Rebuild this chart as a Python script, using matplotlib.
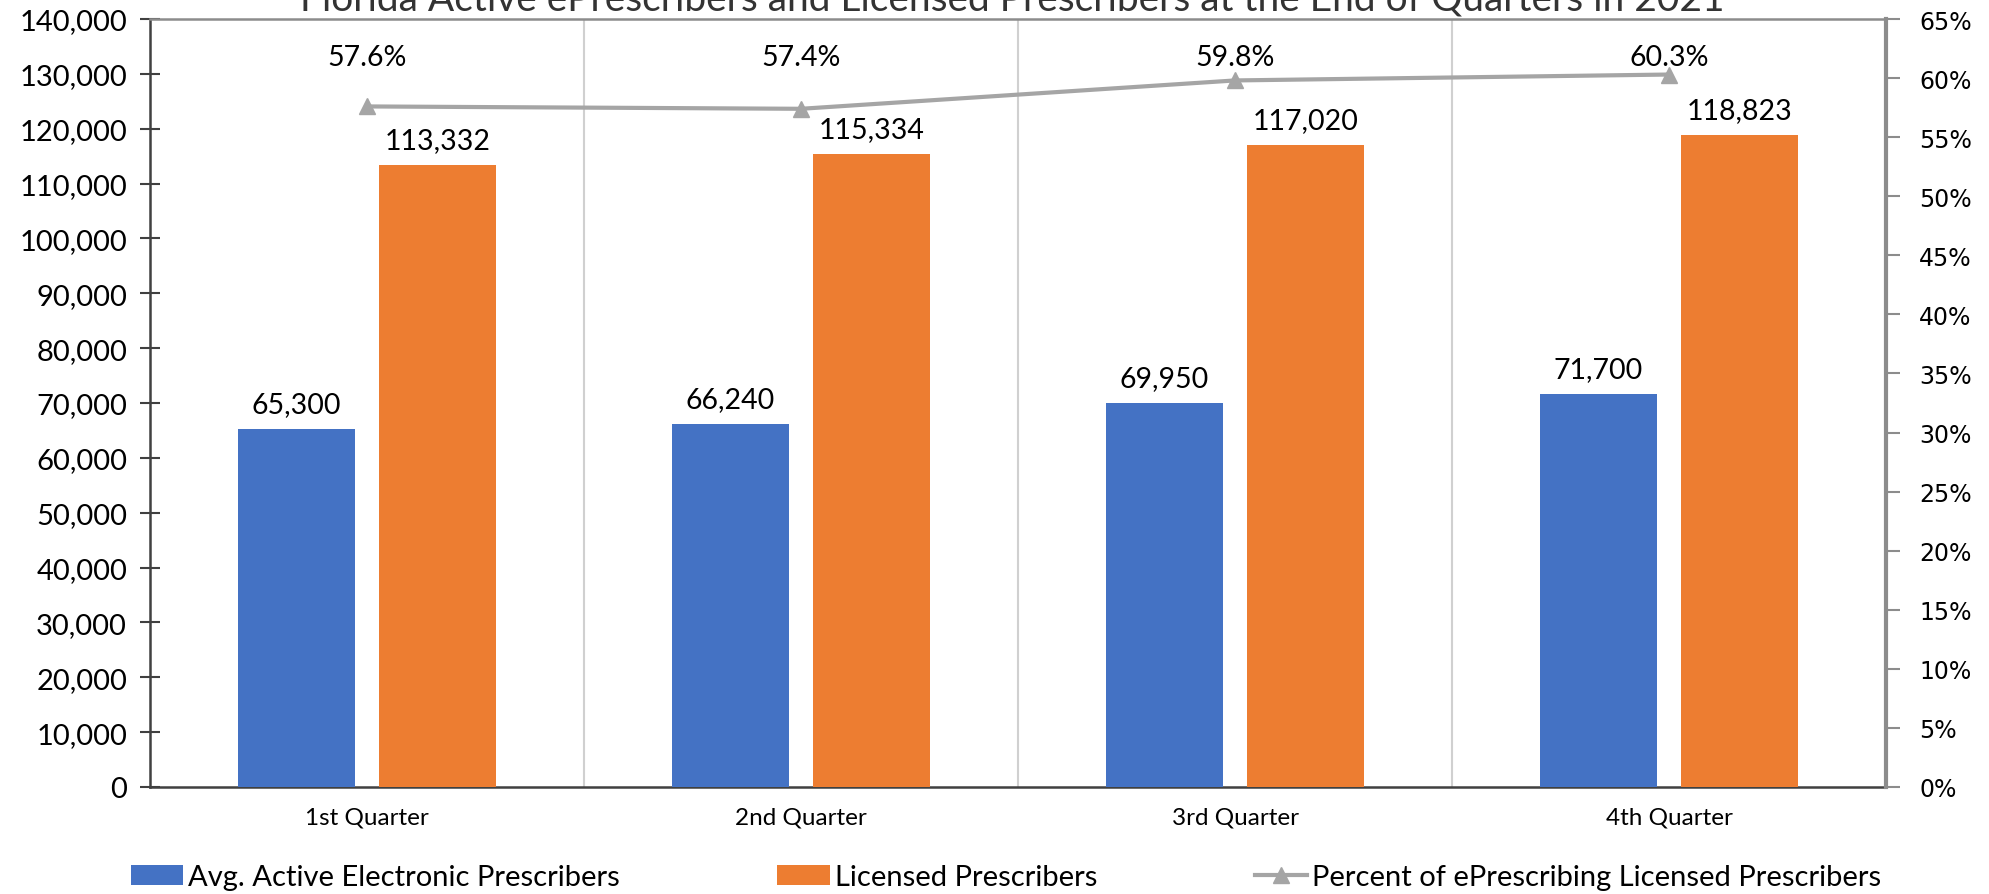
import matplotlib
matplotlib.use('Agg')
import matplotlib.pyplot as plt
import numpy as np
from matplotlib.ticker import FuncFormatter, PercentFormatter

# chart data
quarters = ['1st Quarter', '2nd Quarter', '3rd Quarter', '4th Quarter']
active_prescribers = [65300, 66240, 69950, 71700]
licensed_prescribers = [113332, 115334, 117020, 118823]
percent_eprescribing = [0.576, 0.574, 0.598, 0.603]

title = 'Florida Active ePrescribers and Licensed Prescribers at the End of Quarters in 2021'

plt.rcParams['font.family'] = ['Lato', 'DejaVu Sans']

blue = '#4472C4'
orange = '#ED7D31'
gray_line = '#A5A5A5'

fig = plt.figure(figsize=(19.89, 8.95), dpi=100)
ax = fig.add_axes([150/1989, 1-788/895, (1886-150)/1989, (788-20)/895])

x = np.arange(len(quarters))
w = 0.27
b1 = ax.bar(x - 0.163, active_prescribers, w, color=blue, label='Avg. Active Electronic Prescribers', zorder=3)
b2 = ax.bar(x + 0.163, licensed_prescribers, w, color=orange, label='Licensed Prescribers', zorder=3)

# value labels above the bars
for bars in (b1, b2):
    for rect in bars:
        h = rect.get_height()
        ax.annotate('{:,.0f}'.format(h), (rect.get_x() + rect.get_width()/2, h),
                    xytext=(0, 25), textcoords='offset pixels',
                    ha='center', va='center', fontsize=20.5, color='black')

ax.set_xlim(-0.5, 3.5)
ax.set_ylim(0, 140000)
ax.set_yticks(np.arange(0, 140001, 10000))
ax.yaxis.set_major_formatter(FuncFormatter(lambda v, p: '{:,.0f}'.format(v)))
ax.set_xticks(x)
ax.set_xticklabels(quarters)
ax.set_xticks([0.5, 1.5, 2.5], minor=True)
ax.tick_params(axis='x', which='major', length=0, pad=14, labelsize=17.5)
ax.tick_params(axis='x', which='minor', length=0)
ax.tick_params(axis='y', direction='inout', length=15, width=1.5, color='#404040', labelsize=21, pad=9)
ax.grid(axis='x', which='minor', color='#D0D0D0', linewidth=1.5, zorder=0)

for s in ('left', 'bottom'):
    ax.spines[s].set_color('#404040')
    ax.spines[s].set_linewidth(1.8)
ax.spines['top'].set_color('#8C8C8C')
ax.spines['top'].set_linewidth(1.8)
ax.spines['right'].set_visible(False)

# percent on secondary axis
ax2 = ax.twinx()
ax2.plot(x, percent_eprescribing, color=gray_line, linewidth=3, marker='^', markersize=12,
         label='Percent of ePrescribing Licensed Prescribers', zorder=4)
# the percent labels sit on one common row near the top of the plot
pct_label_level = 0.618
for xi, p in zip(x, percent_eprescribing):
    ax2.annotate('{:.1f}%'.format(p*100), (xi, p), xytext=(xi, pct_label_level), textcoords='data',
                 ha='center', va='center', fontsize=20.5)
ax2.set_ylim(0, 0.65)
ax2.set_yticks(np.arange(0, 0.651, 0.05))
ax2.yaxis.set_major_formatter(PercentFormatter(1.0, decimals=0))
ax2.tick_params(axis='y', direction='out', length=10, width=1.5, color='#8C8C8C', pad=14)
for lbl in ax2.get_yticklabels():
    lbl.set_fontfamily('DejaVu Sans')
    lbl.set_fontsize(17)
for s in ('left', 'top', 'bottom'):
    ax2.spines[s].set_visible(False)
ax2.spines['right'].set_color('#8C8C8C')
ax2.spines['right'].set_linewidth(3)

# title is partly cut off at the top in the original
fig.text(1012/1989, 1 - 10/895, title, ha='center', va='baseline', fontsize=28, color='#333333')

h1, l1 = ax.get_legend_handles_labels()
h2, l2 = ax2.get_legend_handles_labels()
fig.legend(h1 + h2, l1 + l2, loc='center', bbox_to_anchor=(1006/1989, 1 - 878/895), ncol=3,
           frameon=False, fontsize=21, handlelength=1.8, handletextpad=0.17, columnspacing=5.4)

fig.savefig('out.png', dpi=100)
